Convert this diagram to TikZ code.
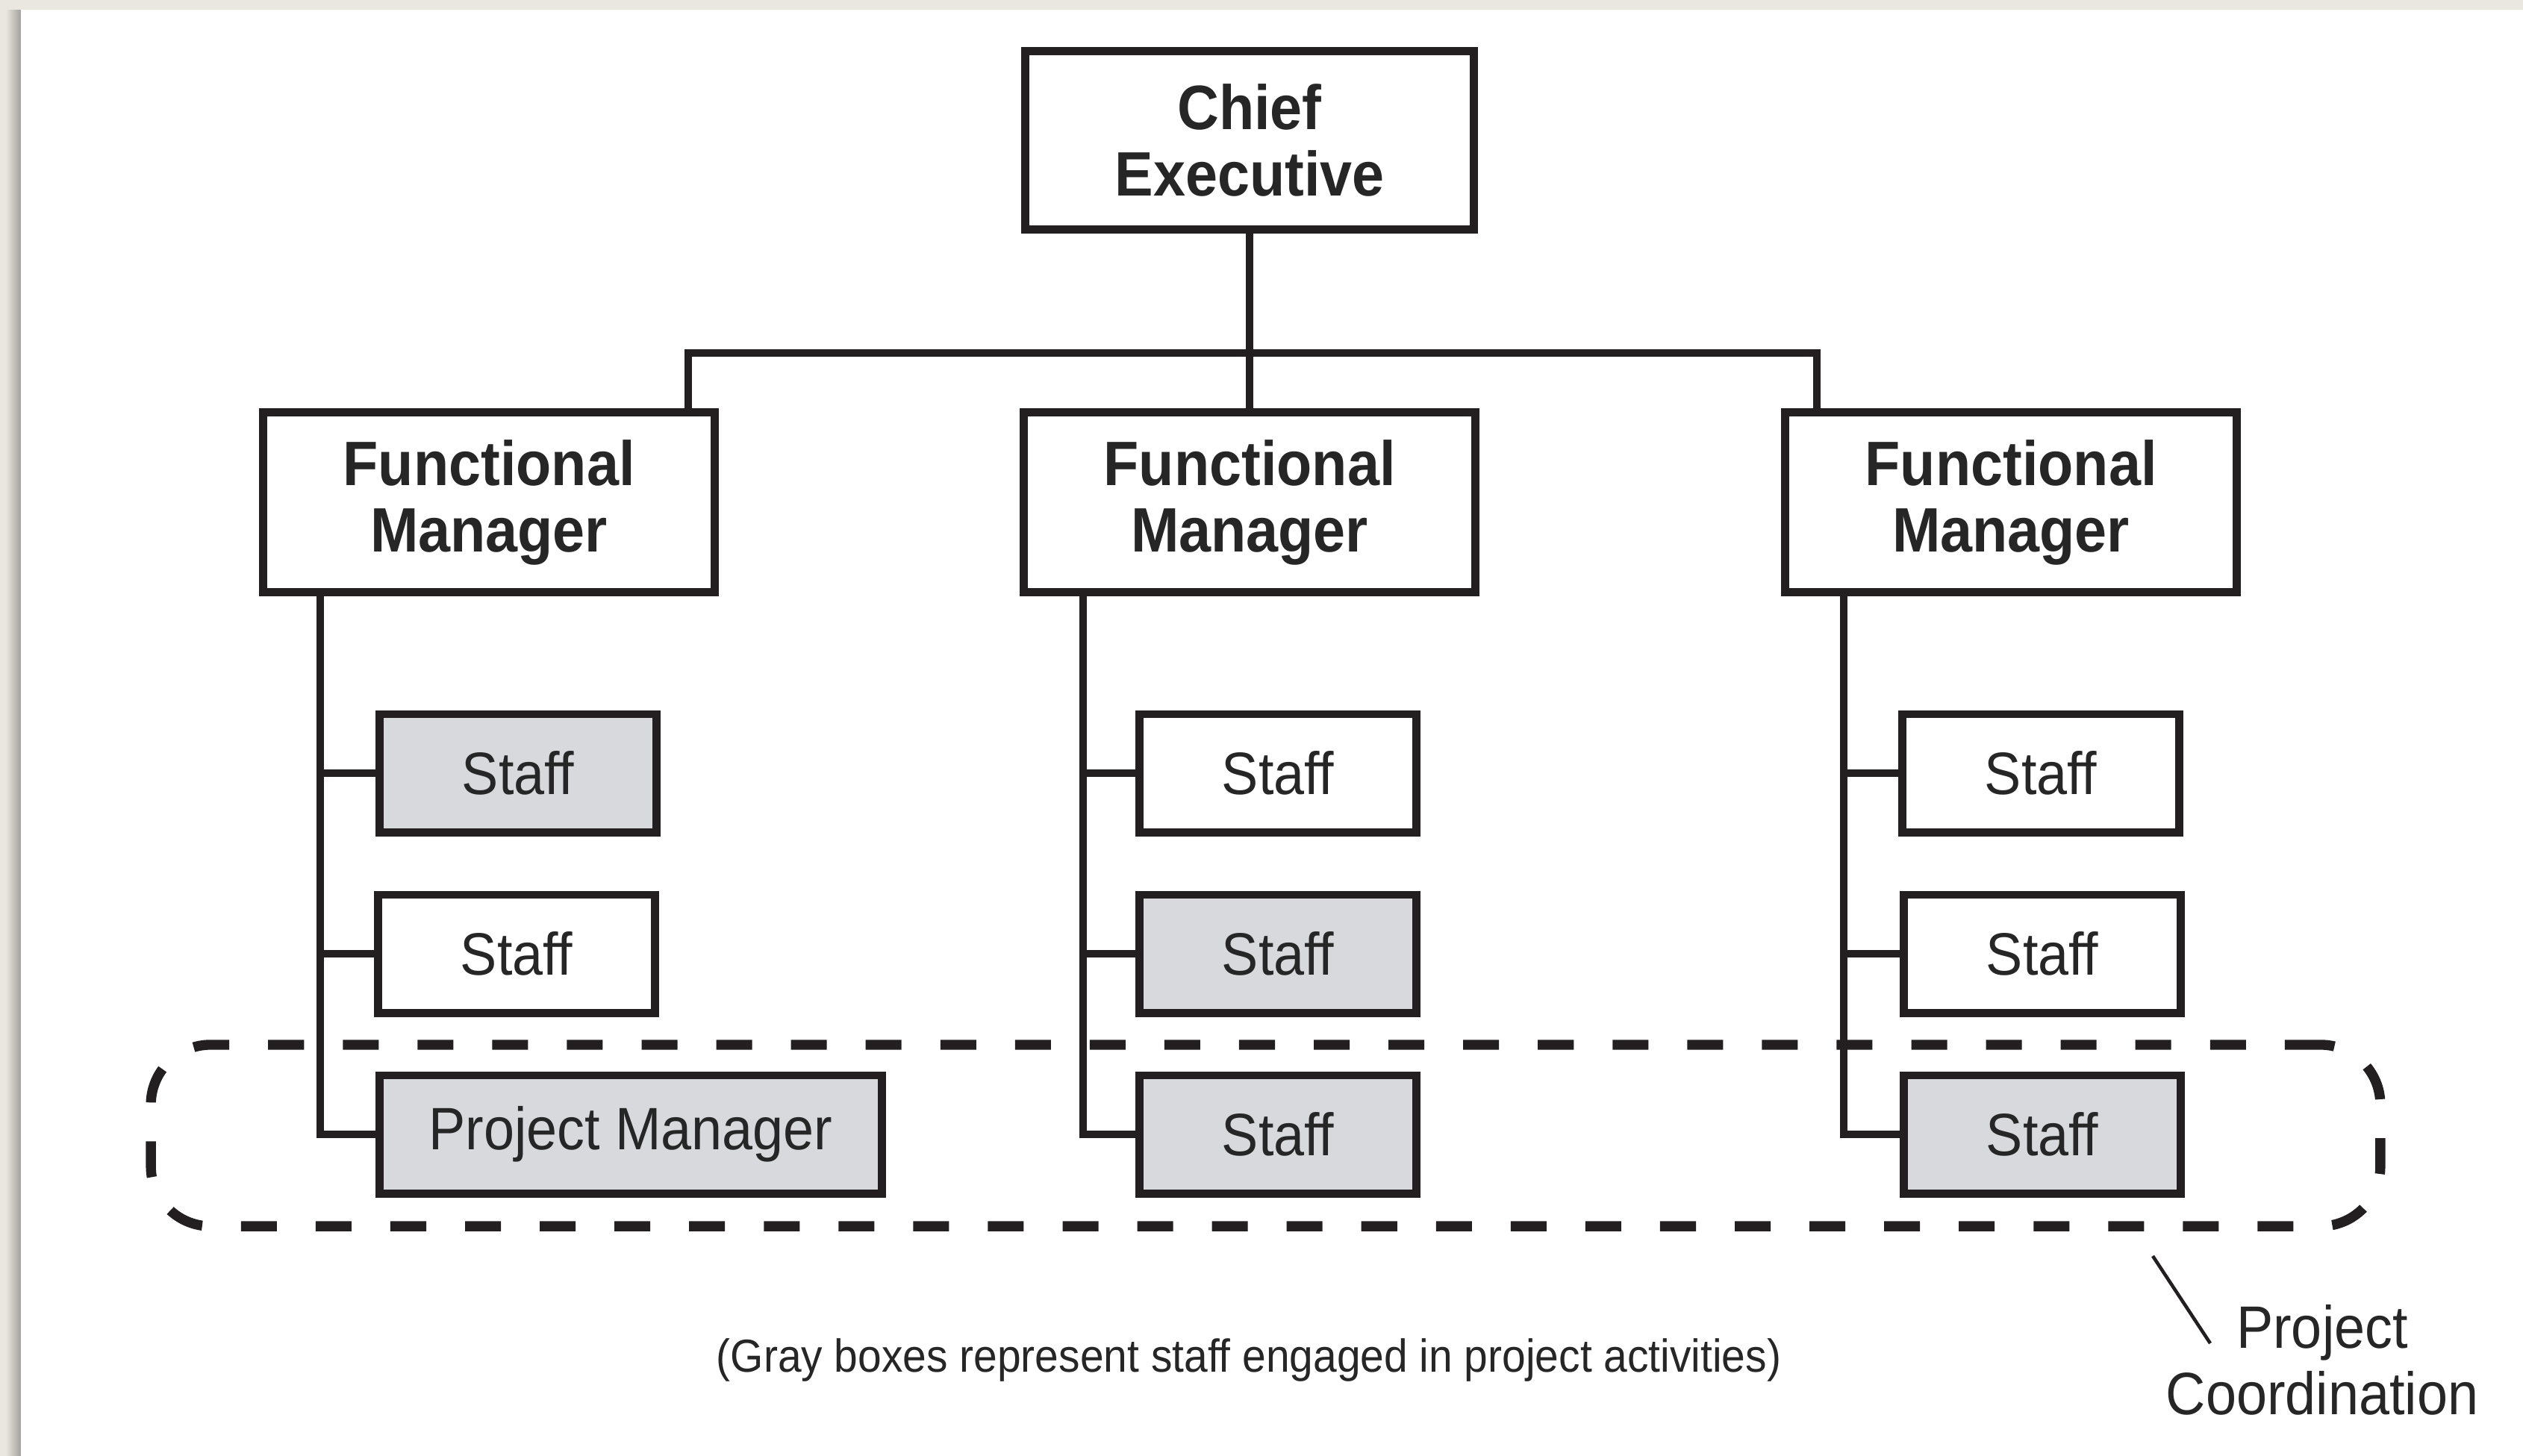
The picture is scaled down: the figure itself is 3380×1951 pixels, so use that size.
\documentclass[tikz,border=0pt]{standalone}
\usepackage{fontspec}
\setmainfont{Liberation Sans}[FakeStretch=0.92]
\definecolor{paper}{HTML}{E9E7E0}
\definecolor{shadowc}{HTML}{A3A19B}
\definecolor{inkc}{HTML}{231F20}
\definecolor{txtc}{HTML}{262626}
\definecolor{boxgray}{HTML}{D8D9DC}
\begin{document}
\begin{tikzpicture}[x=0.01cm,y=-0.01cm,
  box/.style={draw=inkc,line width=3.1pt,fill=white,inner sep=0pt,text=txtc,align=center},
  mgr/.style={box,minimum width=6.04cm,minimum height=2.40cm,font=\fontsize{23.9}{25.3}\selectfont\bfseries},
  staffbox/.style={box,minimum width=3.70cm,minimum height=1.58cm,font=\fontsize{22.8}{26}\selectfont},
  grayfill/.style={fill=boxgray},
  conn/.style={draw=inkc,line width=2.7pt},
  coordbox/.style={draw=inkc,line width=3.8pt,dash pattern=on 0.48cm off 0.52cm,rounded corners=0.8cm,inner sep=0pt},
  lbl/.style={text=txtc,align=center,inner sep=0pt}
]
% background
\fill[paper] (0,0) rectangle (3380,1951);
\shade[left color=paper,right color=shadowc] (8,13) rectangle (28,1951);
\fill[white] (28,13) rectangle (3380,1951);
\useasboundingbox (0,0) rectangle (3380,1951);

% top level
\node[box,minimum width=6.01cm,minimum height=2.38cm,font=\fontsize{23.9}{25.3}\selectfont\bfseries] (ceo) at (1674,188) {Chief\\Executive};

% functional managers
\node[mgr] (fm1) at (655,673) {Functional\\Manager};
\node[mgr] (fm2) at (1674,673) {Functional\\Manager};
\node[mgr] (fm3) at (2694,673) {Functional\\Manager};

% staff column 1
\node[staffbox,grayfill] (s11) at (694,1036) {Staff};
\node[staffbox] (s12) at (692,1278) {Staff};
\node[staffbox,grayfill,minimum width=6.72cm] (s13) at (845,1520) {Project Manager};
% staff column 2
\node[staffbox] (s21) at (1712,1036) {Staff};
\node[staffbox,grayfill] (s22) at (1712,1278) {Staff};
\node[staffbox,grayfill] (s23) at (1712,1520) {Staff};
% staff column 3
\node[staffbox] (s31) at (2734,1036) {Staff};
\node[staffbox] (s32) at (2736,1278) {Staff};
\node[staffbox,grayfill] (s33) at (2736,1520) {Staff};

% connectors top
\coordinate (busL) at (922,473);
\coordinate (busR) at (2434,473);
\draw[conn] (fm1.north -| busL) |- (busR) -- (fm3.north -| busR);
\draw[conn] (ceo.south) -- (fm2.north);

% column connectors
\coordinate (col1x) at (429,0);
\coordinate (col2x) at (1451,0);
\coordinate (col3x) at (2470,0);
\draw[conn] (fm1.south -| col1x) |- (s13.west);
\draw[conn] (s11.west -| col1x) -- (s11.west);
\draw[conn] (s12.west -| col1x) -- (s12.west);
\draw[conn] (fm2.south -| col2x) |- (s23.west);
\draw[conn] (s21.west -| col2x) -- (s21.west);
\draw[conn] (s22.west -| col2x) -- (s22.west);
\draw[conn] (fm3.south -| col3x) |- (s33.west);
\draw[conn] (s31.west -| col3x) -- (s31.west);
\draw[conn] (s32.west -| col3x) -- (s32.west);

% project coordination region
\node[coordbox,minimum width=29.85cm,minimum height=2.43cm] (pc) at (1695.5,1521.5) {};
\node[lbl,font=\fontsize{22.8}{25.3}\selectfont] (pclabel) at (3111,1822) {Project\\Coordination};
\coordinate (slA) at (2884,1683);
\coordinate (slB) at (2961,1800);
\draw[inkc,line width=1.3pt] (slA) -- (slB);

% note
\node[lbl,font=\fontsize{17.6}{20}\selectfont] (note) at (1673,1822) {(Gray boxes represent staff engaged in project activities)};
\end{tikzpicture}
\end{document}
